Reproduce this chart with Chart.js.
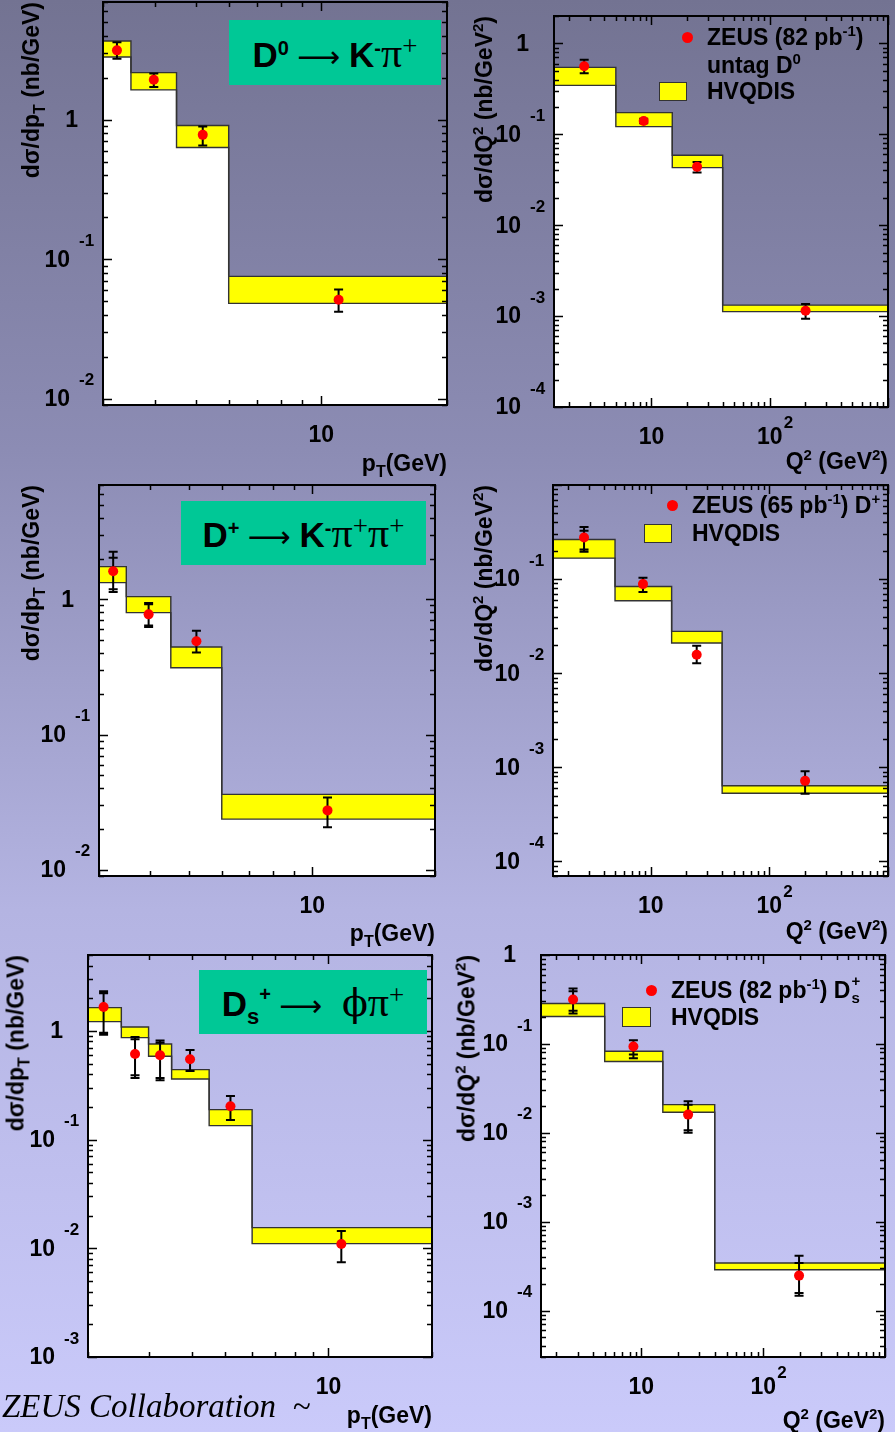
<!DOCTYPE html>
<html>
<head>
<meta charset="utf-8">
<title>ZEUS charm cross sections</title>
<script src="https://cdn.jsdelivr.net/npm/chart.js@4.4.1/dist/chart.umd.min.js"></script>
<style>
  html, body { margin: 0; padding: 0; }
  #page {
    position: relative; width: 895px; height: 1432px; overflow: hidden;
    background: linear-gradient(180deg, #737392 0px, #8c8cb4 450px, #b4b4e2 910px, #cacafa 1432px);
    font-family: "Liberation Sans", Arial, sans-serif; color: #000;
  }
  canvas { position: absolute; }
  sup, sub { line-height: 0; }
  .tag {
    position: absolute; background: #00c896; display: flex; align-items: center; justify-content: center;
    font-weight: bold; font-size: 35px; line-height: 1; white-space: nowrap; z-index: 2;
  }
  .tag sup { font-size: 20px; vertical-align: 12px; }
  .tag sub { font-size: 22px; vertical-align: -8px; }
  .tag .gr { font-family: "Liberation Serif", serif; font-weight: normal; font-size: 42px; }
  .tag .phi { font-family: "DejaVu Serif", serif; font-weight: normal; font-size: 38px; }
  .tag sup.gs { font-family: "Liberation Serif", serif; font-weight: normal; font-size: 27px; vertical-align: 12px; }
  .tag .arr { font-family: "DejaVu Sans", sans-serif; font-weight: normal; font-size: 30px; margin: 0 9px 0 8px; }
  .leg, .xt, .yt {
    position: absolute; font-weight: bold; font-size: 23px; line-height: 1; white-space: nowrap; z-index: 2;
  }
  .leg { transform: translateY(-50%); }
  .xt { transform: translate(-100%, -50%); }
  .yt { transform-origin: 0 0; transform: rotate(-90deg) translate(-100%, -50%); }
  .leg sup, .xt sup, .yt sup { font-size: 15px; vertical-align: 9px; }
  .xt sub, .yt sub { font-size: 16px; vertical-align: -6px; }
  .stack { display: inline-block; position: relative; width: 12px; height: 1em; vertical-align: top; }
  .stack span { position: absolute; left: 1px; font-size: 15px; }
  .dot { position: absolute; width: 11px; height: 11px; margin: -5.5px 0 0 -5.5px; border-radius: 50%; background: #ff0000; z-index: 2; }
  .ybox { position: absolute; background: #ffff00; border: 1.5px solid #333; box-sizing: border-box; z-index: 2; }
  .zeus {
    position: absolute; left: 2px; top: 1390px; font-family: "Liberation Serif", serif; font-style: italic;
    font-size: 33px; line-height: 1; white-space: nowrap; z-index: 2;
  }
</style>
</head>
<body>
<div id="page">
  <!-- channel tags -->
  <div class="tag" style="left:229px;top:20px;width:212px;height:65px">
    <span>D<sup>0</sup><span class="arr">⟶</span>K<sup>-</sup><span class="gr">π</span><sup class="gs">+</sup></span>
  </div>
  <div class="tag" style="left:181px;top:501px;width:245px;height:64px">
    <span>D<sup>+</sup><span class="arr">⟶</span>K<sup>-</sup><span class="gr">π</span><sup class="gs">+</sup><span class="gr">π</span><sup class="gs">+</sup></span>
  </div>
  <div class="tag" style="left:199px;top:970px;width:228px;height:64px">
    <span>D<sub>s</sub><sup style="vertical-align:15px">+</sup><span class="arr" style="margin:0 20px 0 8px">⟶</span><span class="phi">ϕ</span><span class="gr">π</span><sup class="gs">+</sup></span>
  </div>

  <!-- legends -->
  <div class="dot" style="left:687px;top:37px"></div>
  <div class="leg" style="left:707px;top:37px">ZEUS (82 pb<sup>-1</sup>)</div>
  <div class="leg" style="left:707px;top:65px">untag D<sup>0</sup></div>
  <div class="ybox" style="left:659px;top:82px;width:28px;height:19px"></div>
  <div class="leg" style="left:707px;top:91px">HVQDIS</div>

  <div class="dot" style="left:672px;top:505px"></div>
  <div class="leg" style="left:692px;top:505px">ZEUS (65 pb<sup>-1</sup>) D<sup>+</sup></div>
  <div class="ybox" style="left:644px;top:524px;width:28px;height:19px"></div>
  <div class="leg" style="left:692px;top:533px">HVQDIS</div>

  <div class="dot" style="left:651px;top:990px"></div>
  <div class="leg" style="left:671px;top:990px">ZEUS (82 pb<sup>-1</sup>) D<span class="stack"><span style="top:-6px">+</span><span style="top:11px">s</span></span></div>
  <div class="ybox" style="left:622px;top:1007px;width:29px;height:20px"></div>
  <div class="leg" style="left:671px;top:1017px">HVQDIS</div>

  <!-- axis titles -->
  <div class="yt" style="left:31px;top:2px">dσ/dp<sub>T</sub> (nb/GeV)</div>
  <div class="yt" style="left:484px;top:16px">dσ/dQ<sup>2</sup> (nb/GeV<sup>2</sup>)</div>
  <div class="yt" style="left:31px;top:485px">dσ/dp<sub>T</sub> (nb/GeV)</div>
  <div class="yt" style="left:484px;top:485px">dσ/dQ<sup>2</sup> (nb/GeV<sup>2</sup>)</div>
  <div class="yt" style="left:16px;top:955px">dσ/dp<sub>T</sub> (nb/GeV)</div>
  <div class="yt" style="left:467px;top:955px">dσ/dQ<sup>2</sup> (nb/GeV<sup>2</sup>)</div>

  <div class="xt" style="left:447px;top:463px">p<sub>T</sub>(GeV)</div>
  <div class="xt" style="left:888px;top:461px">Q<sup>2</sup> (GeV<sup>2</sup>)</div>
  <div class="xt" style="left:435px;top:933px">p<sub>T</sub>(GeV)</div>
  <div class="xt" style="left:888px;top:931px">Q<sup>2</sup> (GeV<sup>2</sup>)</div>
  <div class="xt" style="left:432px;top:1415px">p<sub>T</sub>(GeV)</div>
  <div class="xt" style="left:885px;top:1420px">Q<sup>2</sup> (GeV<sup>2</sup>)</div>

  <div class="zeus">ZEUS Collaboration&nbsp;&nbsp;~</div>
</div>

<script>
// ---- D0 -> K- pi+ , d sigma / d pT ----
const d0PtEdges = [3, 3.5, 4.5, 6, 20];
const d0PtHvqLow = [2.82, 1.64, 0.633, 0.0482];
const d0PtHvqHigh = [3.68, 2.18, 0.91, 0.0753];
const d0PtX = [3.24, 3.97, 5.2, 11.0];
const d0PtY = [3.15, 1.94, 0.78, 0.0512];
const d0PtErrUp = [0.45, 0.21, 0.116, 0.0095];
const d0PtErrDown = [0.41, 0.22, 0.126, 0.0092];

// ---- D0 untagged, d sigma / d Q2 ----
const d0Q2Edges = [1.5, 5, 15, 40, 1000];
const d0Q2HvqLow = [0.3455, 0.1214, 0.043, 0.00112];
const d0Q2HvqHigh = [0.545, 0.173, 0.0588, 0.00132];
const d0Q2X = [2.7, 8.6, 24.3, 201];
const d0Q2Y = [0.559, 0.14, 0.0438, 0.001145];
const d0Q2ErrUp = [0.103, 0.008, 0.0059, 0.00021];
const d0Q2ErrDown = [0.091, 0.008, 0.0059, 0.00021];

// ---- D+ -> K- pi+ pi+ , d sigma / d pT ----
const dpPtEdges = [3, 3.5, 4.5, 6, 20];
const dpPtHvqLow = [1.328, 0.797, 0.312, 0.0237];
const dpPtHvqHigh = [1.745, 1.046, 0.444, 0.0361];
const dpPtX = [3.25, 3.97, 5.2, 10.9];
const dpPtY = [1.61, 0.774, 0.489, 0.0275];
const dpPtErrUp = [0.64, 0.166, 0.097, 0.0068];
const dpPtErrDown = [0.477, 0.15, 0.084, 0.0069];
const dpPtStatUp = [0.42, 0.146, 0.097, 0.0068];
const dpPtStatDown = [0.424, 0.134, 0.084, 0.0069];

// ---- D+ , d sigma / d Q2 ----
const dpQ2Edges = [1.5, 5, 15, 40, 1000];
const dpQ2HvqLow = [0.167, 0.0589, 0.02094, 0.000531];
const dpQ2HvqHigh = [0.2637, 0.0836, 0.0278, 0.000636];
const dpQ2X = [2.74, 8.6, 24.4, 200];
const dpQ2Y = [0.2767, 0.0885, 0.01574, 0.000718];
const dpQ2ErrUp = [0.082, 0.0148, 0.0039, 0.00019];
const dpQ2ErrDown = [0.082, 0.0157, 0.003, 0.000195];
const dpQ2StatUp = [0.049, 0.0148, 0.0039, 0.00019];
const dpQ2StatDown = [0.07, 0.0157, 0.003, 0.000195];

// ---- Ds+ -> phi pi+ , d sigma / d pT ----
const dsPtEdges = [2, 2.5, 3, 3.5, 4.5, 6, 20];
const dsPtHvqLow = [1.219, 0.868, 0.5845, 0.3616, 0.1345, 0.01104];
const dsPtHvqHigh = [1.64, 1.088, 0.759, 0.4406, 0.1888, 0.01549];
const dsPtX = [2.22, 2.74, 3.24, 3.96, 5.19, 10.9];
const dsPtY = [1.663, 0.614, 0.597, 0.5486, 0.2026, 0.01096];
const dsPtErrUp = [0.654, 0.267, 0.218, 0.12, 0.0497, 0.0035];
const dsPtErrDown = [0.738, 0.245, 0.245, 0.12, 0.051, 0.0035];
const dsPtStatUp = [0.56, 0.224, 0.184, 0.12, 0.0497, 0.0035];
const dsPtStatDown = [0.7, 0.223, 0.228, 0.12, 0.051, 0.0035];

// ---- Ds+ , d sigma / d Q2 ----
const dsQ2Edges = [1.5, 5, 15, 40, 1000];
const dsQ2HvqLow = [0.203, 0.0633, 0.017, 0.000288];
const dsQ2HvqHigh = [0.2845, 0.0827, 0.02075, 0.000343];
const dsQ2X = [2.75, 8.6, 24.2, 197];
const dsQ2Y = [0.3155, 0.0933, 0.016, 0.000247];
const dsQ2ErrUp = [0.1045, 0.0167, 0.0066, 0.000167];
const dsQ2ErrDown = [0.096, 0.0243, 0.006, 0.0001];
const dsQ2StatUp = [0.0765, 0.0167, 0.0047, 0.000096];
const dsQ2StatDown = [0.08, 0.0174, 0.0053, 0.00009];

// tick labels, as powers of ten
const ptXLabelExps = [1];
const q2XLabelExps = [1, 2];
const d0PtYLabelExps = [0, -1, -2];
const d0Q2YLabelExps = [0, -1, -2, -3, -4];
const dpPtYLabelExps = [0, -1, -2];
const dpQ2YLabelExps = [-1, -2, -3, -4];
const dsPtYLabelExps = [0, -1, -2, -3];
const dsQ2YLabelExps = [0, -1, -2, -3, -4];

const PAD = { left: 80, top: 12, right: 12, bottom: 50 };
const FONT = '"Liberation Sans", Arial, sans-serif';

const panels = [
  { frame: { left: 103, top: 2, right: 447, bottom: 405 }, xRange: [3, 20], yRange: [0.009, 7],
    edges: d0PtEdges, low: d0PtHvqLow, high: d0PtHvqHigh, x: d0PtX, y: d0PtY,
    up: d0PtErrUp, down: d0PtErrDown, xLabels: ptXLabelExps, yLabels: d0PtYLabelExps },
  { frame: { left: 554, top: 16, right: 888, bottom: 407 }, xRange: [1.5, 1000], yRange: [1e-4, 2],
    edges: d0Q2Edges, low: d0Q2HvqLow, high: d0Q2HvqHigh, x: d0Q2X, y: d0Q2Y,
    up: d0Q2ErrUp, down: d0Q2ErrDown, xLabels: q2XLabelExps, yLabels: d0Q2YLabelExps },
  { frame: { left: 99, top: 485, right: 435, bottom: 876 }, xRange: [3, 20], yRange: [0.009, 7],
    edges: dpPtEdges, low: dpPtHvqLow, high: dpPtHvqHigh, x: dpPtX, y: dpPtY,
    up: dpPtErrUp, down: dpPtErrDown, statUp: dpPtStatUp, statDown: dpPtStatDown,
    xLabels: ptXLabelExps, yLabels: dpPtYLabelExps },
  { frame: { left: 553, top: 485, right: 888, bottom: 876 }, xRange: [1.5, 1000], yRange: [7e-5, 1],
    edges: dpQ2Edges, low: dpQ2HvqLow, high: dpQ2HvqHigh, x: dpQ2X, y: dpQ2Y,
    up: dpQ2ErrUp, down: dpQ2ErrDown, statUp: dpQ2StatUp, statDown: dpQ2StatDown,
    xLabels: q2XLabelExps, yLabels: dpQ2YLabelExps },
  { frame: { left: 88, top: 955, right: 432, bottom: 1357 }, xRange: [2, 20], yRange: [0.001, 5],
    edges: dsPtEdges, low: dsPtHvqLow, high: dsPtHvqHigh, x: dsPtX, y: dsPtY,
    up: dsPtErrUp, down: dsPtErrDown, statUp: dsPtStatUp, statDown: dsPtStatDown,
    xLabels: ptXLabelExps, yLabels: dsPtYLabelExps },
  { frame: { left: 541, top: 955, right: 885, bottom: 1357 }, xRange: [1.5, 1000], yRange: [3e-5, 1],
    edges: dsQ2Edges, low: dsQ2HvqLow, high: dsQ2HvqHigh, x: dsQ2X, y: dsQ2Y,
    up: dsQ2ErrUp, down: dsQ2ErrDown, statUp: dsQ2StatUp, statDown: dsQ2StatDown,
    xLabels: q2XLabelExps, yLabels: dsQ2YLabelExps },
];

// 1..9 x 10^n tick positions inside [min, max]
function logTicks(min, max) {
  const out = [];
  for (let e = Math.floor(Math.log10(min)); e <= Math.ceil(Math.log10(max)); e++) {
    for (let m = 1; m <= 9; m++) {
      const v = m * Math.pow(10, e);
      if (v >= min * 0.999 && v <= max * 1.001) out.push({ v, major: m === 1 });
    }
  }
  return out;
}

// frame, inward ticks, power-of-ten labels and error bars, ROOT style
function rootStyle(panel) {
  return {
    id: 'rootStyle',
    beforeDatasetDraw(chart, args) {
      if (args.index !== 0) return;
      const ctx = chart.ctx;
      const xs = chart.scales.x;
      const ys = chart.scales.y;
      const cap = (px, py) => { ctx.moveTo(px - 4.5, py); ctx.lineTo(px + 4.5, py); };
      ctx.save();
      ctx.strokeStyle = '#000';
      ctx.lineWidth = 2;
      ctx.beginPath();
      panel.x.forEach((xv, i) => {
        const px = xs.getPixelForValue(xv);
        const top = ys.getPixelForValue(panel.y[i] + panel.up[i]);
        const bot = ys.getPixelForValue(panel.y[i] - panel.down[i]);
        ctx.moveTo(px, top);
        ctx.lineTo(px, bot);
        cap(px, top);
        cap(px, bot);
        if (panel.statUp) {
          cap(px, ys.getPixelForValue(panel.y[i] + panel.statUp[i]));
          cap(px, ys.getPixelForValue(panel.y[i] - panel.statDown[i]));
        }
      });
      ctx.stroke();
      ctx.restore();
    },
    afterDatasetsDraw(chart) {
      const ctx = chart.ctx;
      const { left, right, top, bottom } = chart.chartArea;
      const xs = chart.scales.x;
      const ys = chart.scales.y;
      ctx.save();
      ctx.strokeStyle = '#000';
      ctx.lineWidth = 1.5;
      ctx.beginPath();
      logTicks(ys.min, ys.max).forEach((t) => {
        const py = Math.round(ys.getPixelForValue(t.v)) + 0.5;
        const len = t.major ? 9 : 5;
        ctx.moveTo(left, py); ctx.lineTo(left + len, py);
        ctx.moveTo(right, py); ctx.lineTo(right - len, py);
      });
      logTicks(xs.min, xs.max).forEach((t) => {
        const px = Math.round(xs.getPixelForValue(t.v)) + 0.5;
        const len = t.major ? 9 : 5;
        ctx.moveTo(px, bottom); ctx.lineTo(px, bottom - len);
        ctx.moveTo(px, top); ctx.lineTo(px, top + len);
      });
      ctx.stroke();
      ctx.lineWidth = 2;
      ctx.strokeRect(left, top, right - left, bottom - top);

      ctx.fillStyle = '#000';
      ctx.textBaseline = 'middle';
      panel.yLabels.forEach((e) => {
        const py = ys.getPixelForValue(Math.pow(10, e));
        ctx.font = 'bold 23px ' + FONT;
        ctx.textAlign = 'right';
        if (e === 0) {
          ctx.fillText('1', left - 25, py + 1);
          return;
        }
        ctx.fillText('10', left - 33, py + 1);
        if (e !== 1) {
          ctx.font = 'bold 17px ' + FONT;
          ctx.textAlign = 'left';
          ctx.fillText(String(e), left - 24, py - 18);
        }
      });
      panel.xLabels.forEach((e) => {
        const px = xs.getPixelForValue(Math.pow(10, e));
        ctx.font = 'bold 23px ' + FONT;
        ctx.textAlign = 'center';
        ctx.fillText(e === 0 ? '1' : '10', px, bottom + 31);
        if (e > 1) {
          ctx.font = 'bold 17px ' + FONT;
          ctx.textAlign = 'left';
          ctx.fillText(String(e), px + 14, bottom + 16);
        }
      });
      ctx.restore();
    },
  };
}

function buildPanel(panel) {
  const f = panel.frame;
  const canvas = document.createElement('canvas');
  canvas.width = f.right - f.left + PAD.left + PAD.right;
  canvas.height = f.bottom - f.top + PAD.top + PAD.bottom;
  canvas.style.left = (f.left - PAD.left) + 'px';
  canvas.style.top = (f.top - PAD.top) + 'px';
  document.getElementById('page').appendChild(canvas);

  // step histograms: one point per bin edge, the last bin value repeated at the right edge
  const step = (values) => panel.edges.map((x, i) => ({ x, y: values[Math.min(i, values.length - 1)] }));

  new Chart(canvas, {
    type: 'scatter',
    data: {
      datasets: [
        {
          label: 'ZEUS',
          data: panel.x.map((x, i) => ({ x, y: panel.y[i] })),
          pointRadius: 5,
          pointBackgroundColor: '#ff0000',
          pointBorderColor: '#ff0000',
          pointBorderWidth: 0,
          order: 0,
        },
        {
          label: 'HVQDIS upper',
          data: step(panel.high),
          showLine: true,
          stepped: true,
          pointRadius: 0,
          borderColor: '#333333',
          borderWidth: 1.4,
          backgroundColor: '#ffff00',
          fill: 2,
          order: 1,
        },
        {
          label: 'HVQDIS lower',
          data: step(panel.low),
          showLine: true,
          stepped: true,
          pointRadius: 0,
          borderColor: '#333333',
          borderWidth: 1.4,
          backgroundColor: '#ffffff',
          fill: 'start',
          order: 2,
        },
      ],
    },
    options: {
      responsive: false,
      animation: false,
      devicePixelRatio: 1,
      events: [],
      layout: { padding: PAD },
      plugins: {
        legend: { display: false },
        tooltip: { enabled: false },
        filler: { drawTime: 'beforeDatasetsDraw' },
      },
      scales: {
        x: { type: 'logarithmic', min: panel.xRange[0], max: panel.xRange[1], bounds: 'data', display: false },
        y: { type: 'logarithmic', min: panel.yRange[0], max: panel.yRange[1], bounds: 'data', display: false },
      },
    },
    plugins: [rootStyle(panel)],
  });
}

panels.forEach(buildPanel);
</script>
</body>
</html>
